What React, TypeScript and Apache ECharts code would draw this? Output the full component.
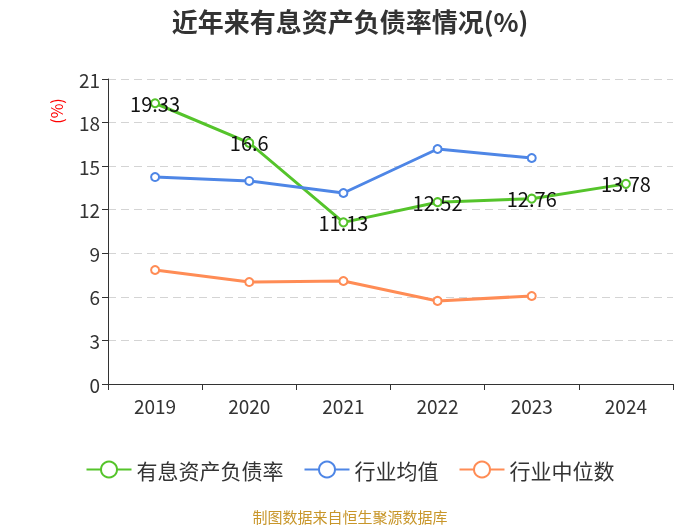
import React, { useEffect, useRef } from "react";
import * as echarts from "echarts";

const categories = ["2019", "2020", "2021", "2022", "2023", "2024"];
const ratio = [19.33, 16.6, 11.13, 12.52, 12.76, 13.78];
const industryAvg = [14.25, 13.98, 13.15, 16.18, 15.56, null];
const industryMedian = [7.85, 7.02, 7.09, 5.72, 6.06, null];
const yTicks = { min: 0, max: 21, interval: 3 };

const FONT = "Noto Sans CJK SC";

export default function App() {
  const ref = useRef<HTMLDivElement>(null);
  useEffect(() => {
    const chart = echarts.init(ref.current!, null, { renderer: "svg" });
    chart.setOption({
      animation: false,
      textStyle: { fontFamily: FONT },
      title: {
        text: "近年来有息资产负债率情况(%)",
        left: "center",
        top: 2,
        textStyle: { fontSize: 26, fontWeight: "bold", color: "#333", fontFamily: FONT },
      },
      graphic: [
        {
          type: "text",
          x: 350,
          y: 516,
          style: {
            text: "制图数据来自恒生聚源数据库",
            fill: "#c8962a",
            fontSize: 15,
            fontFamily: FONT,
            textAlign: "center",
            textVerticalAlign: "middle",
          },
        },
        {
          type: "text",
          x: 56,
          y: 111,
          rotation: Math.PI / 2,
          style: {
            text: "(%)",
            fill: "#ff0000",
            fontSize: 16,
            fontFamily: FONT,
            textAlign: "center",
            textVerticalAlign: "middle",
          },
        },
      ],
      legend: {
        left: "center",
        top: 454,
        itemWidth: 45,
        itemHeight: 20,
        itemGap: 20,
        textStyle: { fontSize: 21, color: "#333", fontFamily: FONT },
        data: ["有息资产负债率", "行业均值", "行业中位数"],
      },
      grid: { left: 108, right: 27, top: 79, bottom: 141 },
      xAxis: {
        type: "category",
        data: categories,
        axisLine: { lineStyle: { color: "#333" } },
        axisTick: { show: true, length: 6, lineStyle: { color: "#333" } },
        axisLabel: { fontSize: 19, color: "#333", margin: 12, fontFamily: FONT },
      },
      yAxis: {
        type: "value",
        min: yTicks.min,
        max: yTicks.max,
        interval: yTicks.interval,
        axisLine: { show: true, lineStyle: { color: "#333" } },
        axisTick: { show: true, length: 6, lineStyle: { color: "#333" } },
        axisLabel: { fontSize: 19, color: "#333", margin: 8, fontFamily: FONT },
        splitLine: { lineStyle: { type: [8, 5], color: "#d4d4d4" } },
      },
      series: [
        {
          name: "有息资产负债率",
          type: "line",
          data: ratio,
          symbol: "emptyCircle",
          symbolSize: 8,
          lineStyle: { width: 3, color: "#55c42b" },
          itemStyle: { color: "#55c42b" },
          label: { show: true, position: "inside", fontSize: 20, color: "#111", fontFamily: FONT },
          z: 3,
        },
        {
          name: "行业均值",
          type: "line",
          data: industryAvg,
          symbol: "emptyCircle",
          symbolSize: 8,
          lineStyle: { width: 3, color: "#4e86e6" },
          itemStyle: { color: "#4e86e6" },
        },
        {
          name: "行业中位数",
          type: "line",
          data: industryMedian,
          symbol: "emptyCircle",
          symbolSize: 8,
          lineStyle: { width: 3, color: "#ff8c55" },
          itemStyle: { color: "#ff8c55" },
        },
      ],
    });
    return () => chart.dispose();
  }, []);
  return <div ref={ref} style={{ position: "fixed", left: 0, top: 0, width: 700, height: 525 }} />;
}
